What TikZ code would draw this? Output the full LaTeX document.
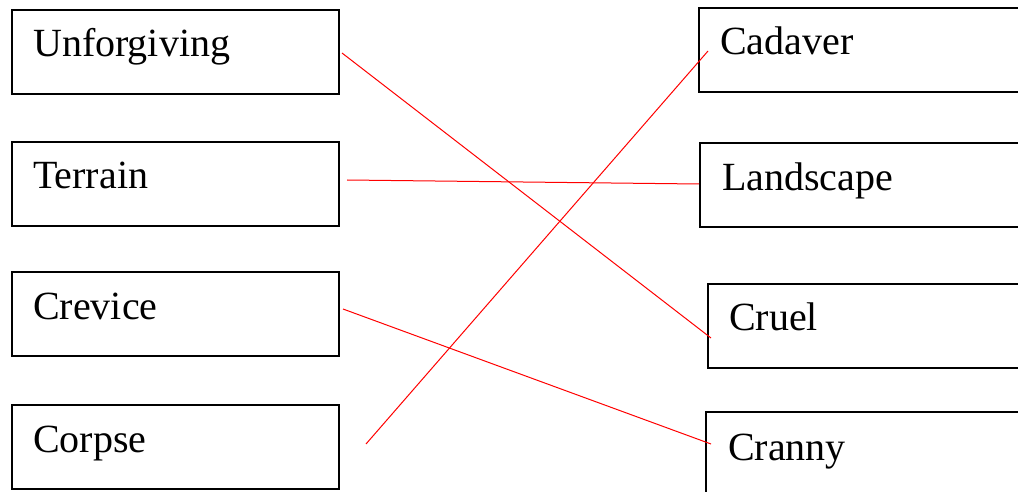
\documentclass[tikz,border=0pt]{standalone}
\usepackage{fontspec}
\setmainfont{Liberation Serif}
\begin{document}
\begin{tikzpicture}[x=1pt,y=-1pt,
  wordbox/.style={draw=black,line width=1.8pt,anchor=north west,inner sep=0pt,minimum height=84pt},
  leftbox/.style={wordbox,minimum width=327pt},
  rightbox/.style={wordbox,minimum width=340pt},
  word/.style={anchor=base west,inner sep=0pt,font=\fontsize{40}{44}\selectfont},
  link/.style={draw=red,line width=1pt}]
\useasboundingbox (0,0) rectangle (1018,492);
\clip (0,0) rectangle (1018,492);
% left boxes
\node[leftbox] (b1) at (11,9) {};
\node[leftbox] (b2) at (11,141) {};
\node[leftbox] (b3) at (11,271) {};
\node[leftbox] (b4) at (11,404) {};
\node[word] (t1) at (33,57) {Unforgiving};
\node[word] (t2) at (33,189) {Terrain};
\node[word] (t3) at (33,319) {Crevice};
\node[word] (t4) at (33,452) {Corpse};
% right boxes
\node[rightbox] (r1) at (698,7) {};
\node[rightbox] (r2) at (699,142) {};
\node[rightbox] (r3) at (707,283) {};
\node[rightbox] (r4) at (705,411) {};
\node[word] (s1) at (720,55) {Cadaver};
\node[word] (s2) at (722,190) {Landscape};
\node[word] (s3) at (729,330) {Cruel};
\node[word] (s4) at (728,460) {Cranny};
% connector ends
\coordinate (a1) at (342,53);
\coordinate (a2) at (347,180);
\coordinate (a3) at (343,309);
\coordinate (a4) at (366,444);
\coordinate (e1) at (711,338);
\coordinate (e2) at (699,184);
\coordinate (e3) at (711,444);
\coordinate (e4) at (708,51);
\draw[link] (a1) -- (e1);
\draw[link] (a2) -- (e2);
\draw[link] (a3) -- (e3);
\draw[link] (a4) -- (e4);
\end{tikzpicture}
\end{document}
